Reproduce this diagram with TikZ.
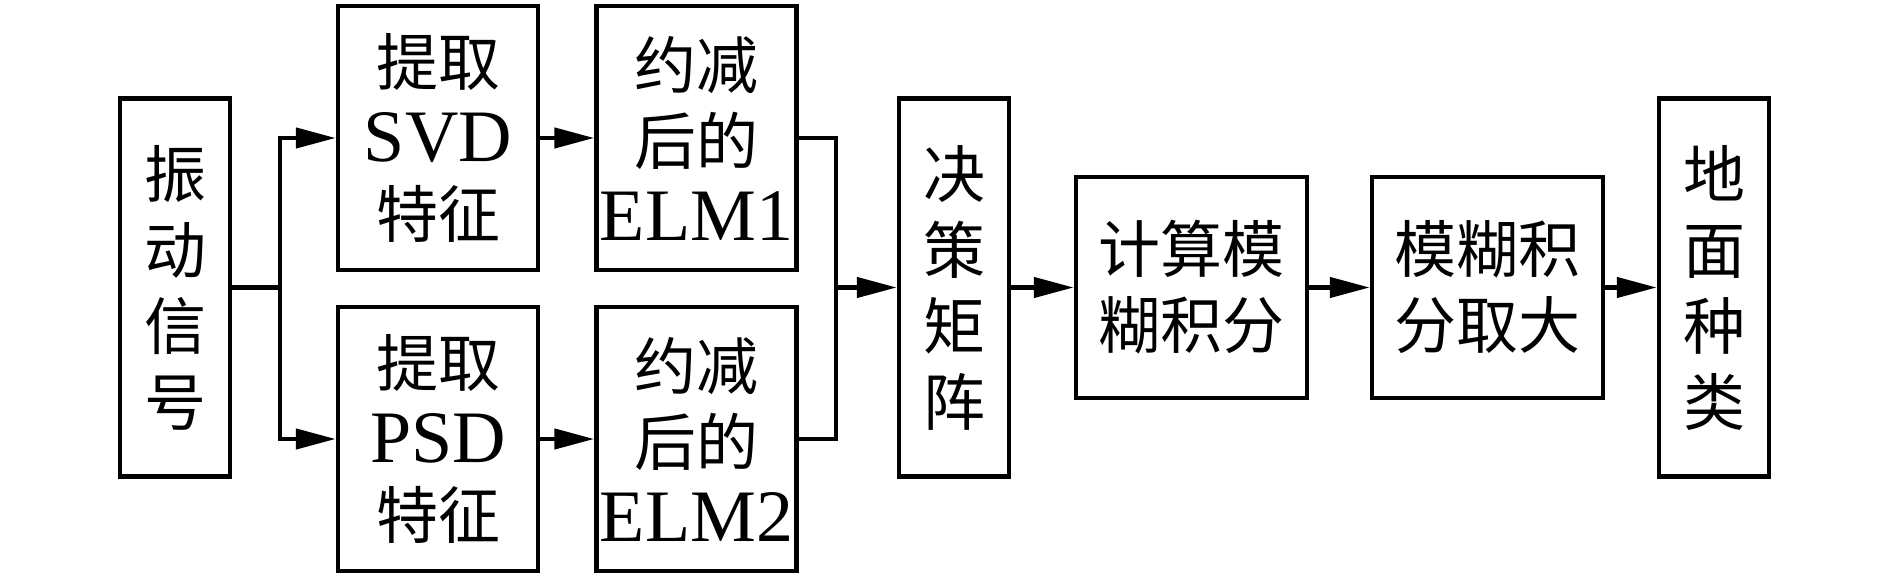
\documentclass[tikz,border=0pt]{standalone}
\usepackage{fontspec}
\setmainfont{Liberation Serif}
\newfontfamily\cjk{Noto Sans CJK SC}
\usepackage{tikz}
\usetikzlibrary{arrows.meta,positioning}
\newcommand{\lat}[1]{{\rmfamily\fontsize{74}{76}\selectfont #1}}
\tikzset{
  ar/.style={-{Triangle[length=40pt,width=20pt]},line width=4.5pt},
  ln/.style={line width=4.5pt},
  box/.style={draw,line width=4.5pt,align=center,inner sep=0pt,font=\cjk\fontsize{62}{76}\selectfont},
  tall/.style={box,minimum width=110pt,minimum height=378pt},
  feat/.style={box,minimum width=200pt,minimum height=264pt},
  wide/.style={box,minimum width=231pt,minimum height=221pt}
}
\begin{document}
\begin{tikzpicture}[x=1pt,y=1pt]
\useasboundingbox (0,0) rectangle (1889,575);
\node[tall] (sig) at (175,287.5) {振\\动\\信\\号};
\node[feat] (svd) at (438,437) {提取\\\lat{SVD}\\特征};
\node[feat] (psd) at (438,136) {提取\\\lat{PSD}\\特征};
\node[feat] (elm1) at (696.5,437) {约减\\后的\\\lat{ELM1}};
\node[feat] (elm2) at (696.5,136) {约减\\后的\\\lat{ELM2}};
\node[tall] (dec) at (954,287.5) {决\\策\\矩\\阵};
\node[wide] (fint) at (1191.5,287.5) {计算模\\糊积分};
\node[wide] (fmax) at (1487.5,287.5) {模糊积\\分取大};
\node[tall] (cls) at (1714,287.5) {地\\面\\种\\类};
\coordinate (br) at (280,287.5);
\coordinate (mg) at (836,287.5);
\draw[ln] (sig.east) -- (br);
\draw[ar] (br) |- (svd.west);
\draw[ar] (br) |- (psd.west);
\draw[ar] (svd) -- (elm1);
\draw[ar] (psd) -- (elm2);
\draw[ln] (elm1.east) -| (mg);
\draw[ln] (elm2.east) -| (mg);
\draw[ar] (mg) -- (dec.west);
\draw[ar] (dec) -- (fint);
\draw[ar] (fint) -- (fmax);
\draw[ar] (fmax) -- (cls);
\end{tikzpicture}
\end{document}
